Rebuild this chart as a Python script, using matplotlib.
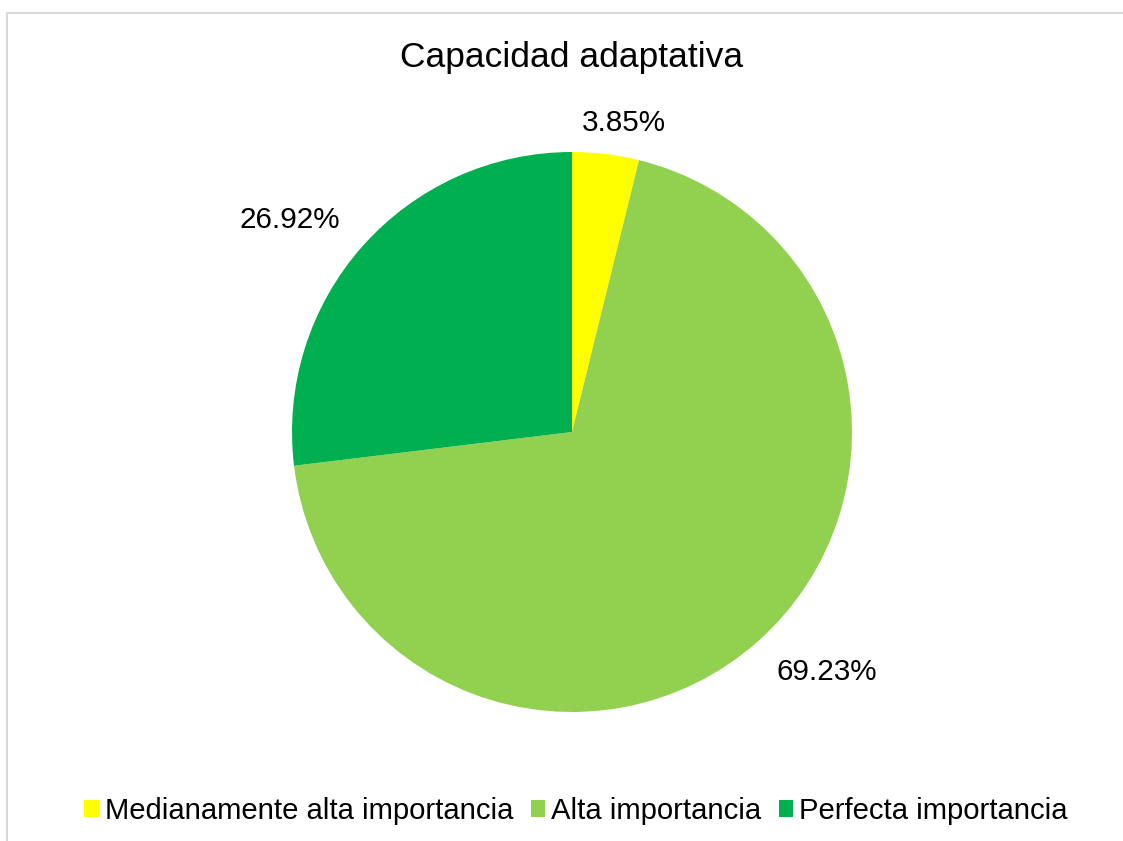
import numpy as np
import matplotlib.pyplot as plt
from matplotlib.patches import Rectangle

categories = ['Medianamente alta importancia', 'Alta importancia', 'Perfecta importancia']
values = [1, 18, 7]
colors = ['#FFFF00', '#92D050', '#00B050']
# placement of each % label: distance (in radii) and angle shift from the wedge middle
label_dist = [1.12, 1.25, 1.26]
label_shift = [-2.6, 5.1, 4.7]

plt.rcParams['font.family'] = ['Liberation Sans', 'DejaVu Sans']

fig = plt.figure(figsize=(11.23, 8.41), dpi=100)
ax = fig.add_axes([0, 0, 1, 1])

cx, cy, r = 572, 409, 280
wedges, texts, autotexts = ax.pie(
    values, colors=colors, startangle=90, counterclock=False,
    center=(cx, cy), radius=r, autopct='%.2f%%', pctdistance=1.2,
    textprops={'fontsize': 21.3, 'color': 'black'},
)
for w, t, d, s in zip(wedges, autotexts, label_dist, label_shift):
    ang = np.deg2rad((w.theta1 + w.theta2) / 2 + s)
    t.set_position((cx + d * r * np.cos(ang), cy + d * r * np.sin(ang)))

ax.set_xlim(0, 1123)
ax.set_ylim(0, 841)
ax.set_aspect('equal')
ax.axis('off')

ax.text(572, 841 - 57, 'Capacidad adaptativa', ha='center', va='center', fontsize=25.5)

leg = ax.legend(wedges, categories, loc='center', bbox_to_anchor=(576 / 1123, 1 - 811 / 841),
                ncol=3, frameon=False, fontsize=21.1, handlelength=0.5, handleheight=0.5,
                handletextpad=0.2, columnspacing=0.6)

fig.patches.append(Rectangle((7, 841 - 13 - 900), 1200, 900, transform=None,
                             fill=False, edgecolor='#D9D9D9', linewidth=1.5))

fig.savefig('out.png', dpi=100)
